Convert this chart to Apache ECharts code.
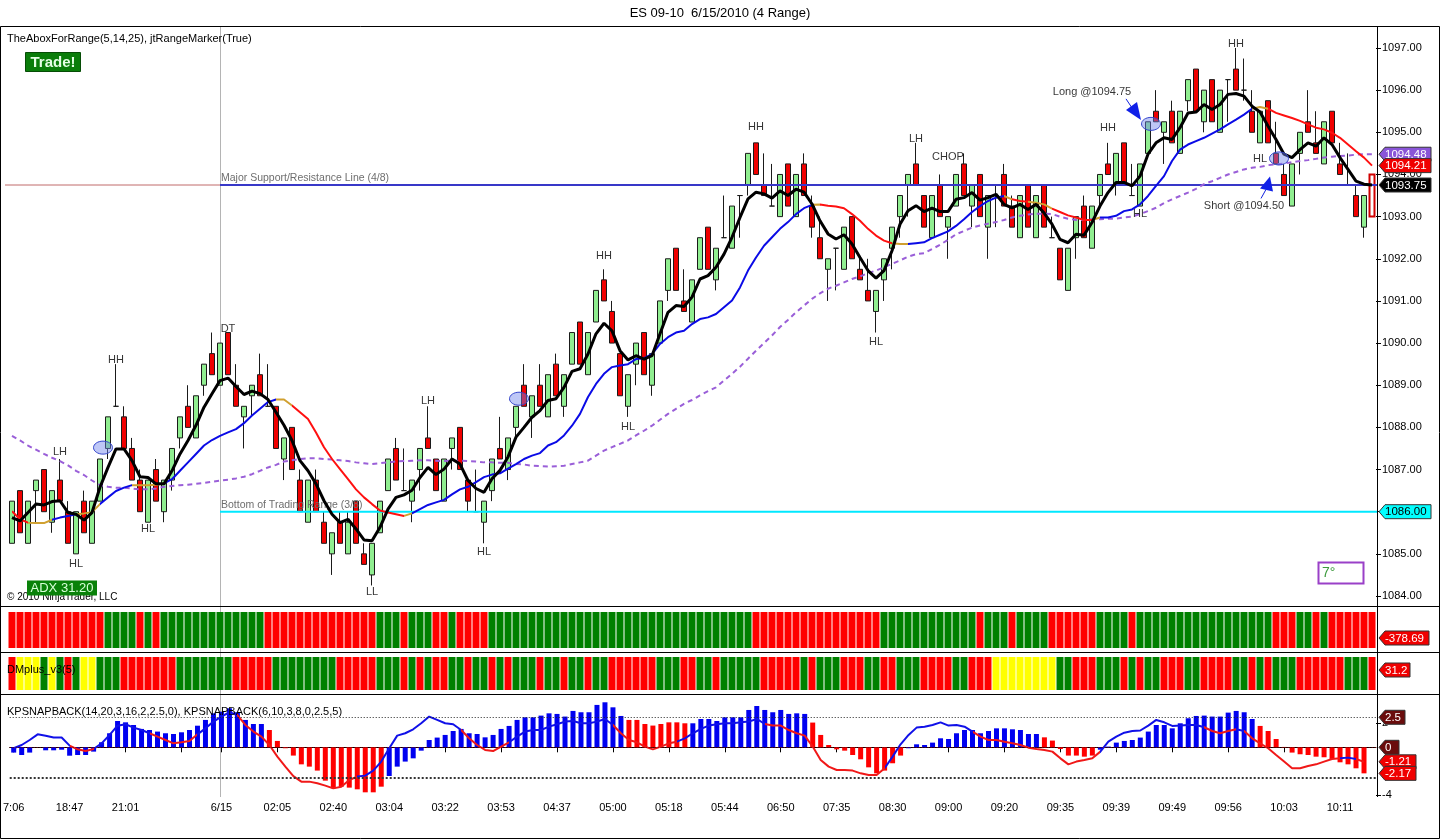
<!DOCTYPE html>
<html><head><meta charset="utf-8">
<script src="https://cdn.jsdelivr.net/npm/echarts@6/dist/echarts.min.js"></script>
<style>html,body{margin:0;padding:0;background:#fff}#c{width:1440px;height:840px}</style>
</head><body><div id="c"></div>
<script>
// ---------------- DATA ----------------
const opens = [
1085.25,1086.5,1085.25,1086.5,1087,1085.75,1086.75,1086,1085,1086.25,
1085.25,1086.25,1087.5,1088.5,1088.25,1087.5,1086.75,1085.75,1087,1086,
1086.75,1087.75,1088.5,1087.75,1089,1089.75,1089,1090.25,1089,1088.25,
1088.75,1089.25,1088.5,1088.5,1087.25,1088,1086.75,1085.75,1086.75,1085.75,
1085,1085.75,1085,1086.25,1085,1084.5,1085.5,1086.5,1087.5,1086.5,
1086.25,1087,1087.75,1087.25,1086.25,1087.5,1088,1086.75,1086,1085.75,
1086.5,1087.5,1087,1088,1089,1088.25,1089,1088.25,1089.5,1088.5,
1089.5,1090.5,1089.25,1090.5,1091.5,1090.75,1089.75,1088.5,1089.5,1090.25,
1089,1090,1091.25,1092.25,1091,1090.5,1091.75,1092.75,1091.5,1092.5,
1092.25,1093.5,1093.75,1094.75,1093.75,1093.25,1093,1094.25,1093,1094.25,
1093.25,1092.5,1091.75,1092.25,1091.75,1093,1091.75,1091.25,1090.75,1091.5,
1092.25,1093,1093.75,1094.25,1093.5,1092.5,1093.75,1092.75,1093.25,1094.25,
1093.25,1094,1092.75,1093.5,1094,1093.25,1092.5,1093.75,1092.5,1093.75,
1092.5,1092.25,1091.25,1092.5,1093.25,1092.25,1093.5,1094.25,1093.75,1094.75,
1093.5,1093.25,1094.5,1095.5,1095,1095.5,1094.5,1095.75,1096.5,1095.25,
1096.25,1095,1096.25,1096.5,1096,1095.5,1094.75,1095.75,1094.5,1094,
1093.25,1094.5,1095.25,1094.75,1094.25,1095.5,1094.25,1093.75,1093.5,1092.75,
1094];
const closes = [
1086.25,1085.5,1086.25,1086.75,1086,1086.5,1086.25,1085.25,1086,1085.5,
1086.25,1087.25,1088.25,1088.5,1087.5,1086.75,1086,1086.75,1086.25,1086.75,
1087.5,1088.25,1088,1088.75,1089.5,1089.25,1090,1089.25,1088.5,1088.5,
1089,1088.75,1088.5,1087.5,1087.75,1087,1086,1086.75,1086,1085.25,
1085.5,1085.25,1085.75,1085.25,1084.75,1085.25,1086.25,1087.25,1086.75,1086.5,
1086.75,1087.5,1087.5,1086.5,1087.25,1087.75,1087,1086.25,1086,1086.25,
1087.25,1087.25,1087.75,1088.5,1088.5,1088.75,1088.5,1089.25,1088.75,1089.25,
1090.25,1089.5,1090.25,1091.25,1091,1090,1088.75,1089.25,1090,1089.25,
1089.75,1091,1092,1091.25,1090.75,1091.5,1092.5,1091.75,1092.25,1092.5,
1093.25,1093.5,1094.5,1094,1093.5,1093.25,1094,1093.25,1094,1093.5,
1092.75,1092,1092,1092.25,1092.75,1092,1091.5,1091,1091.25,1092,
1092.75,1093.5,1094,1093.75,1092.75,1093.5,1093,1093,1094,1093.5,
1093.75,1093,1093.5,1093.5,1093.25,1092.75,1093.5,1092.75,1093.5,1092.75,
1092.5,1091.5,1092.25,1093,1092.5,1093.25,1094,1094,1094.5,1093.75,
1093.5,1094.25,1095.25,1095.25,1095.25,1094.75,1095.5,1096.25,1095.5,1096,
1095.25,1096,1096.25,1096,1096,1095,1095.5,1094.75,1094.25,1093.5,
1094.25,1095,1095,1094.5,1095.25,1094.75,1094,1093.75,1093,1093.5,
1093];
const lows = [
1085.25,1085.5,1085.25,1085.75,1086,1085.5,1086.25,1085.25,1085,1085.5,
1085.25,1086.25,1087.25,1088.5,1087.5,1086.75,1086,1085.75,1086.25,1085.75,
1086.5,1087.5,1088,1087.75,1088.75,1089.25,1089,1089.25,1088.5,1087.5,
1088.25,1088.75,1088.5,1087.5,1086.75,1087,1086,1085.75,1086,1085.25,
1084.5,1085.25,1085,1085.25,1084.75,1084.25,1085.5,1086.5,1086.75,1086.5,
1085.75,1086.5,1087.5,1086.5,1086.25,1087,1087,1086,1086,1085.25,
1086.25,1087.25,1086.75,1087.75,1088.5,1087.75,1088.5,1088.25,1088.75,1088.25,
1089.5,1089.5,1089.25,1090.5,1091,1090,1088.75,1088.25,1089,1089.25,
1088.75,1090,1091,1091.25,1090.75,1090.5,1091.75,1091.75,1091.25,1092.5,
1092.25,1092.5,1093.5,1094,1093.5,1093.25,1093,1093.25,1093,1093.5,
1092.5,1092,1091,1091.25,1091.75,1092,1091.5,1091,1090.25,1091,
1091.75,1092.5,1093,1093.75,1092.75,1092.5,1093,1092,1093.25,1093.5,
1092.75,1093,1092,1092.75,1093.25,1092.75,1092.5,1092.75,1092.5,1092.75,
1092.5,1091.5,1091.25,1092,1092.5,1092.25,1093.25,1094,1093.5,1093.75,
1093.5,1093.25,1094.5,1095.25,1094.25,1094.75,1094.5,1095.5,1095.5,1095,
1095.25,1095,1095.25,1096,1095.75,1095,1094.75,1094.75,1094.25,1093.5,
1093.25,1094,1095,1094.5,1094.25,1094.75,1094,1093.75,1093,1092.5,
1093];
const highs = [
1086.25,1086.5,1086.25,1086.75,1087,1086.5,1087.25,1086.25,1086,1086.5,
1086.25,1087.25,1088.25,1089.5,1088.5,1087.75,1087,1086.75,1087.25,1086.75,
1087.5,1088.25,1089,1088.75,1089.5,1090.25,1090,1090.25,1089.5,1088.5,
1089,1089.75,1089.5,1088.5,1087.75,1088,1087,1086.75,1087,1086,
1085.5,1086,1086,1086.25,1085.25,1085.25,1086.25,1087.25,1087.75,1087.5,
1086.75,1087.5,1088.5,1087.25,1087.25,1087.75,1088,1086.75,1087,1086.25,
1087.25,1088.25,1087.75,1088.5,1089.5,1088.75,1089.5,1089.25,1089.75,1089.25,
1090.25,1090.5,1090.25,1091.25,1091.75,1091,1089.75,1089.25,1090,1090.25,
1089.75,1091,1092,1092.25,1091.75,1091.5,1092.5,1092.75,1092.25,1093.5,
1093.25,1093.5,1094.5,1094.75,1094.5,1094.25,1094,1094.25,1094,1094.5,
1093.5,1093,1092,1092.25,1092.75,1093,1092,1092,1091.25,1092,
1092.75,1093.5,1094,1094.75,1093.5,1093.5,1094,1093,1094,1094.5,
1093.75,1094,1093.5,1093.75,1094.25,1093.5,1093.5,1093.75,1093.5,1093.75,
1093,1092.25,1092.25,1093,1093.5,1093.25,1094,1094.75,1094.5,1094.75,
1094.25,1094.25,1095.25,1096,1095.25,1095.75,1095.5,1096.25,1096.5,1096,
1096.25,1096,1096.25,1097,1096.75,1096,1095.5,1095.75,1095.25,1094.25,
1094.25,1095,1096,1095.5,1095.25,1095.5,1094.75,1094.5,1093.75,1093.5,
1094];
const fastLine = [
1085.86,1085.78,1085.98,1086.18,1086.16,1086.24,1086.26,1085.98,1085.94,1085.80,
1085.98,1086.58,1087.05,1087.49,1087.49,1087.21,1086.83,1086.81,1086.66,1086.66,
1086.97,1087.37,1087.69,1088.05,1088.48,1088.80,1089.11,1089.17,1088.97,1088.78,
1088.86,1088.80,1088.66,1088.36,1088.05,1087.69,1087.21,1086.97,1086.66,1086.26,
1085.94,1085.74,1085.82,1085.59,1085.33,1085.31,1085.63,1086.06,1086.34,1086.40,
1086.51,1086.81,1087.05,1086.88,1087.01,1087.25,1087.13,1086.74,1086.55,1086.46,
1086.78,1086.98,1087.30,1087.77,1088.00,1088.24,1088.40,1088.64,1088.68,1088.95,
1089.33,1089.39,1089.74,1090.22,1090.47,1090.29,1089.82,1089.60,1089.70,1089.62,
1089.70,1090.22,1090.73,1090.89,1090.87,1091.09,1091.52,1091.60,1091.80,1092.11,
1092.51,1092.98,1093.42,1093.58,1093.54,1093.44,1093.61,1093.50,1093.65,1093.58,
1093.30,1092.90,1092.59,1092.47,1092.57,1092.35,1092.03,1091.72,1091.54,1091.72,
1092.19,1092.82,1093.14,1093.26,1093.12,1093.20,1093.12,1093.12,1093.41,1093.45,
1093.57,1093.39,1093.45,1093.53,1093.29,1093.21,1093.29,1093.17,1093.29,1093.09,
1092.82,1092.46,1092.38,1092.58,1092.56,1092.86,1093.25,1093.57,1093.81,1093.81,
1093.73,1093.96,1094.48,1094.75,1094.87,1094.83,1095.11,1095.46,1095.48,1095.66,
1095.54,1095.66,1095.90,1095.92,1095.86,1095.62,1095.48,1095.15,1094.83,1094.48,
1094.40,1094.59,1094.75,1094.67,1094.87,1094.71,1094.40,1094.12,1093.84,1093.77,
1093.75];
const trendLine = [
1086.01,1085.82,1085.74,1085.73,1085.73,1085.81,1085.86,1085.90,1085.94,1085.96,
1085.99,1086.18,1086.34,1086.49,1086.57,1086.63,1086.63,1086.63,1086.64,1086.67,
1086.77,1086.97,1087.17,1087.37,1087.57,1087.70,1087.80,1087.88,1087.96,1088.10,
1088.28,1088.44,1088.60,1088.66,1088.66,1088.52,1088.36,1088.20,1087.88,1087.53,
1087.25,1087.01,1086.77,1086.53,1086.34,1086.18,1086.03,1085.98,1085.94,1085.90,
1085.96,1086.06,1086.16,1086.22,1086.28,1086.41,1086.53,1086.59,1086.70,1086.82,
1086.88,1086.91,1087.02,1087.13,1087.25,1087.33,1087.39,1087.57,1087.65,1087.81,
1088.04,1088.32,1088.72,1089.03,1089.27,1089.43,1089.47,1089.50,1089.62,1089.64,
1089.74,1089.98,1090.14,1090.25,1090.29,1090.45,1090.57,1090.61,1090.69,1090.85,
1091.01,1091.32,1091.72,1092.03,1092.31,1092.51,1092.71,1092.87,1093.06,1093.20,
1093.28,1093.29,1093.26,1093.24,1093.20,1093.06,1092.90,1092.71,1092.55,1092.43,
1092.37,1092.35,1092.35,1092.37,1092.39,1092.49,1092.57,1092.65,1092.78,1092.94,
1093.11,1093.25,1093.37,1093.45,1093.49,1093.41,1093.37,1093.35,1093.33,1093.29,
1093.19,1093.11,1093.03,1092.98,1092.92,1092.92,1092.98,1092.98,1093.02,1093.13,
1093.17,1093.29,1093.49,1093.73,1093.96,1094.32,1094.59,1094.71,1094.79,1094.87,
1094.97,1095.07,1095.19,1095.30,1095.42,1095.56,1095.60,1095.56,1095.46,1095.40,
1095.34,1095.27,1095.19,1095.11,1095.07,1094.99,1094.87,1094.71,1094.55,1094.40,
1094.21];
const slowLine = [
1087.80,1087.69,1087.57,1087.47,1087.37,1087.28,1087.20,1087.10,1086.97,1086.87,
1086.74,1086.63,1086.59,1086.57,1086.57,1086.55,1086.53,1086.53,1086.55,1086.59,
1086.61,1086.63,1086.64,1086.66,1086.68,1086.71,1086.74,1086.76,1086.79,1086.83,
1086.89,1086.97,1087.05,1087.11,1087.19,1087.22,1087.25,1087.27,1087.27,1087.25,
1087.24,1087.22,1087.20,1087.17,1087.15,1087.13,1087.15,1087.17,1087.19,1087.20,
1087.21,1087.22,1087.22,1087.21,1087.20,1087.21,1087.21,1087.20,1087.19,1087.17,
1087.17,1087.16,1087.16,1087.13,1087.12,1087.09,1087.08,1087.07,1087.08,1087.09,
1087.13,1087.17,1087.21,1087.33,1087.45,1087.53,1087.61,1087.69,1087.81,1087.92,
1088.04,1088.18,1088.32,1088.44,1088.56,1088.65,1088.76,1088.86,1088.95,1089.11,
1089.27,1089.44,1089.63,1089.82,1090.00,1090.18,1090.38,1090.55,1090.73,1090.89,
1091.05,1091.18,1091.29,1091.36,1091.44,1091.52,1091.58,1091.66,1091.72,1091.80,
1091.88,1091.96,1092.05,1092.11,1092.13,1092.23,1092.33,1092.45,1092.58,1092.66,
1092.74,1092.79,1092.83,1092.87,1092.92,1092.98,1093.02,1093.05,1093.07,1093.07,
1093.06,1093.00,1092.95,1092.92,1092.92,1092.94,1092.94,1092.95,1092.95,1092.98,
1093.00,1093.06,1093.13,1093.21,1093.32,1093.41,1093.49,1093.57,1093.66,1093.77,
1093.84,1093.92,1094.00,1094.06,1094.12,1094.16,1094.18,1094.22,1094.24,1094.26,
1094.29,1094.32,1094.34,1094.37,1094.40,1094.42,1094.44,1094.45,1094.47,1094.48,
1094.48];
// trend line state: B up, R down, O flat
const trendFlags = ['RROOOBBBOO','OBBBBOOOOB','BBBBBBBBBB','BBBOORRRRR','RRRRRRRRRO','BBBBBBBBBB','BBBBBBBBBB','BBBBBBBBBB','BBBBBBBBBB','BBBBBBBBBB','ORRRRRRRRR','OOBBBBBBBB','BBBBORROOO','RRRRROBBBB','BBBBBBBBBB','BBBBBOORRR','RRRRRRRRRR','R'].join('');
// colour-bar panels
const panel2Flags = ['RRRRRRRRRR','RRGGGGRGRG','GGGGGGGGGG','GGRRRRRRRR','RRRRRRGGGR','GGGRRGRRRR','GGGGGGGGGG','GGGGGGGGGG','GGGGGGGGGG','GGGRRRRRRR','RRRRRRRRRG','GGGGGGGGGG','GRGGGRGGGG','RRRRRRGGGG','RGGGGGGGGG','GGGGGGGGRR','RGGRGRRRRR','R'].join('');
const panel3Flags = ['RYYYGYGRGY','YGGGRRRRRR','RGGGGGGGRR','RRRGGGGGGG','GRRRRRGGGR','GRGRRGGRGG','RGRGGGRGGR','GGRGGRRRRR','RGGGRRGGRG','GGGGRRRRRG','RGGGRRRGGR','RGGGRRRRGG','RRRYYYYYYY','YGGRRRGGGR','GRGGRRRGGR','RRRGGRGRGG','GRRRRRRGGG','R'].join('');
// KPSNAPBACK histogram and line
const kpHist = [
-0.44,-0.64,-0.44,0,-0.25,-0.25,-0.2,-0.7,-0.64,-0.64,
-0.36,0.42,1.17,2.19,2.08,1.86,1.53,1.44,1.31,1.17,
1.11,1.25,1.44,1.8,2.28,2.83,2.97,3.25,2.92,2.28,
1.94,1.94,1.44,0.53,-0.08,-0.69,-1.42,-1.61,-1.94,-2.78,
-3.42,-3.28,-3.36,-3.5,-3.75,-3.75,-3.28,-2.39,-1.61,-1.19,
-0.92,-0.28,0.61,0.81,1.03,1.36,1.53,1.17,1.11,0.83,
1.03,1.53,1.78,2.28,2.5,2.5,2.64,2.83,2.78,2.56,
3.03,2.92,2.92,3.53,3.75,3.33,2.61,2.28,2.28,1.94,
1.81,1.94,2.08,2.08,2.0,2.0,2.36,2.36,2.19,2.5,
2.5,2.5,3.11,3.44,3.11,2.92,3.11,2.78,2.83,2.78,
2.06,1.03,0.19,-0.17,-0.28,-0.64,-1.0,-1.67,-2.17,-1.94,
-1.33,-0.69,-0.08,0.25,0.19,0.39,0.75,0.69,1.17,1.44,
1.44,1.17,1.36,1.58,1.58,1.5,1.44,1.11,1.11,0.83,
0.56,-0.14,-0.69,-0.69,-0.78,-0.69,-0.2,0.06,0.39,0.53,
0.61,0.81,1.31,1.86,1.86,1.58,2.0,2.42,2.61,2.64,
2.56,2.56,2.89,3.03,2.92,2.36,1.78,1.36,0.69,0.03,
-0.44,-0.58,-0.64,-0.78,-0.83,-0.97,-1.25,-1.42,-1.75,-2.17,
null];
const kpHistFlags = ['BBBBBBBBBB','BBBBBBBBBB','BBBBBBBBBB','BBRRRRRRRR','RRRRRRRBBB','BBBBBBBBBB','BBBBBBBBBB','BBBBBBBRRR','RRRRRBBBBB','BBBBBBBBBB','RRRRRRRRRR','RRBBBBBBBB','BBBBBBBBBR','RRRRRRBBBB','BBBBBBBBBB','BBBBBBRRRR','RRRRRRRRRR','R'].join('');
const kpLine = [
-0.08,0.19,0.61,1.08,0.97,0.81,0.81,0.14,-0.17,-0.31,
-0.14,0.33,1.03,1.8,1.92,1.64,1.44,1.17,0.89,0.61,
0.33,0.42,0.53,1.08,1.58,2.14,2.56,2.92,2.69,1.86,
1.31,0.89,0.19,-0.78,-1.61,-2.4,-2.86,-2.86,-3.0,-3.19,
-3.42,-3.28,-2.72,-2.44,-2.36,-1.94,-1.19,-0.08,0.97,1.17,
1.5,2.0,2.56,2.28,2.0,1.92,1.44,0.75,0.19,-0.22,
-0.31,0.06,0.42,0.89,1.31,1.44,1.44,1.72,1.92,2.14,
2.19,2.0,2.0,2.14,2.36,1.86,1.17,0.61,0.42,0.06,
-0.17,0.06,0.33,0.47,0.75,1.17,1.53,1.81,1.92,2.0,
2.0,2.08,2.14,2.36,1.94,1.81,1.81,1.44,1.17,0.97,
0.06,-1.06,-1.61,-1.89,-1.89,-1.94,-2.17,-2.31,-2.31,-1.75,
-0.78,0.25,1.03,1.64,1.72,1.86,2.08,1.81,1.86,1.72,
1.31,0.89,0.61,0.61,0.47,0.33,0.19,-0.03,-0.14,-0.22,
-0.36,-0.92,-1.42,-1.19,-1.06,-0.92,-0.36,0.47,0.89,1.22,
1.36,1.4,1.81,2.28,2.08,1.78,1.81,1.86,1.86,1.67,
1.36,1.17,1.36,1.5,1.36,0.75,0.33,-0.08,-0.64,-1.19,
-1.75,-1.75,-1.56,-1.42,-1.19,-0.97,-0.92,-0.86,-0.97,-1.21,
null];
const kpLineFlags = ['BBBBBBBRRR','BBBBBBBRRR','RRRBBBBBRR','RRRRRRRRRR','RRRBBBBBBB','BBBBBBRRRR','RRBBBBBBBB','BBBBBRRRRR','RRRBBBBBBB','BBBBRRRRRR','RRRRRRRRRB','BBBBBBBBBB','RRRRRRRRRR','RRRRRRBBBB','BBBBBBBBBR','RRRBRRRRRR','RRRRRRBBRR','R'].join('');
// axis ticks
const priceTicks = [1084,1085,1086,1087,1088,1089,1090,1091,1092,1093,1094,1095,1096,1097];
const kpTicks = [2,-4];
const tickBars  = [0,7,14,21,26,33,40,47,54,61,68,75,82,89,96,103,110,117,124,131,138,145,152,159,166];
const tickTexts = ['7:06','18:47','21:01','','6/15','02:05','02:40','03:04','03:22','03:53','04:37','05:00','05:18','05:44','06:50','07:35','08:30','09:00','09:20','09:35','09:39','09:49','09:56','10:03','10:11'];
// annotations [bar, price, text]
const annotations = [
[6,1087.42,'LH'],[13,1089.61,'HH'],[8,1084.77,'HL'],[17,1085.6,'HL'],[27,1090.34,'DT'],
[45,1084.1,'LL'],[52,1088.63,'LH'],[59,1085.05,'HL'],[74,1092.07,'HH'],[77,1088.02,'HL'],
[93,1095.13,'HH'],[108,1090.03,'HL'],[113,1094.85,'LH'],[117,1094.42,'CHOP'],[137,1095.11,'HH'],
[141,1093.07,'HL'],[153,1097.1,'HH'],[156,1094.37,'HL'],
[135,1095.96,'Long @1094.75'],[154,1093.26,'Short @1094.50']];
const entryMarks = [[11,1087.52],[63,1088.68],[142,1095.2],[158,1094.38]];
const levelSR = 1093.75, levelBottom = 1086.00, sessionBar = 26;
const lastValues = {slow:1094.48, trend:1094.21, fast:1093.75, bottom:1086.00, p2:'-378.69', p3:'31.2', kpTop:2.5, kpZero:0, kpLine:-1.21, kpHist:-2.17};

// ---------------- CHART ----------------
const FONT = '"Liberation Sans", Arial, sans-serif';
const N = opens.length;
const cats = opens.map((_, i) => String(i));
const chart = echarts.init(document.getElementById('c'));

const candleData = opens.map((o, i) => [o, closes[i], lows[i], highs[i]]);
candleData[N - 1] = {value: candleData[N - 1], itemStyle: {color: 'rgba(0,0,0,0)', color0: 'rgba(0,0,0,0)', borderColor: '#d00000', borderColor0: '#d00000', borderWidth: 2}};

const panelColors = {R: '#ff0000', G: '#008000', Y: '#ffff00'};
const histColors = {B: '#0000f0', R: '#ff0000'};
const trendColors = {B: '#0a0ae6', R: '#ff1010', O: '#d0a030'};
const kpColors = {B: '#1010e8', R: '#f01818'};

function piecesFrom(flags, pal) {
  const out = []; let s = 0;
  for (let i = 1; i <= flags.length; i++) {
    if (i === flags.length || flags[i] !== flags[s]) { out.push({gte: s - 0.5, lt: i - 0.5, color: pal[flags[s]]}); s = i; }
  }
  return out;
}

const L = 8, W = 1368;
const grids = [
  {left: L, width: W, top: 30, height: 573},
  {left: L, width: W, top: 612, height: 36},
  {left: L, width: W, top: 657, height: 33},
  {left: L, width: W, top: 694, height: 103}
];
const tickSet = new Set(tickBars);
function xAxisFor(gi, show) {
  return {type: 'category', gridIndex: gi, data: cats, boundaryGap: true, show: show,
    axisLine: {show: show, lineStyle: {color: '#000'}},
    axisTick: {show: show, alignWithLabel: true, interval: (i) => tickSet.has(i), length: 5, lineStyle: {color: '#000'}},
    axisLabel: {show: show, interval: (i) => tickSet.has(i), margin: 5, color: '#000', fontSize: 11, fontFamily: FONT,
      formatter: (v, i) => { const k = tickBars.indexOf(Number(v)); return k >= 0 ? tickTexts[k] : ''; }},
    splitLine: {show: false}};
}

const option = {
  animation: false,
  backgroundColor: '#fff',
  grid: grids,
  xAxis: [xAxisFor(0, false), xAxisFor(1, false), xAxisFor(2, false), xAxisFor(3, true)],
  yAxis: [
    {type: 'value', gridIndex: 0, position: 'right', min: 1083.834, max: 1097.427, scale: true,
      axisLine: {show: false}, splitLine: {show: false},
      axisTick: {show: true, customValues: priceTicks, length: 5, lineStyle: {color: '#000'}},
      axisLabel: {customValues: priceTicks, formatter: v => Number(v).toFixed(2), color: '#000', fontSize: 11, fontFamily: FONT, margin: 6}},
    {type: 'value', gridIndex: 1, min: 0, max: 1, show: false},
    {type: 'value', gridIndex: 2, min: 0, max: 1, show: false},
    {type: 'value', gridIndex: 3, position: 'right', min: -4.14, max: 4.44,
      axisLine: {show: false}, splitLine: {show: false},
      axisTick: {show: true, customValues: kpTicks, length: 5, lineStyle: {color: '#000'}},
      axisLabel: {customValues: kpTicks, color: '#000', fontSize: 11, fontFamily: FONT, margin: 6}}
  ],
  visualMap: [
    {type: 'piecewise', show: false, seriesIndex: 2, dimension: 0, pieces: piecesFrom(trendFlags, trendColors)},
    {type: 'piecewise', show: false, seriesIndex: 8, dimension: 0, pieces: piecesFrom(kpLineFlags, kpColors)}
  ],
  series: [
    {type: 'candlestick', xAxisIndex: 0, yAxisIndex: 0, data: candleData, barWidth: 6, z: 2,
      itemStyle: {color: '#90ee90', color0: '#f00000', borderColor: '#1a1a1a', borderColor0: '#1a1a1a', borderWidth: 1}},
    {type: 'line', name: 'slow', xAxisIndex: 0, yAxisIndex: 0, data: slowLine, showSymbol: false, z: 3,
      lineStyle: {color: '#9a5fd8', width: 2, type: [5, 4]}},
    {type: 'line', name: 'trend', xAxisIndex: 0, yAxisIndex: 0, data: trendLine, showSymbol: false, z: 4,
      lineStyle: {width: 2}},
    {type: 'line', name: 'fast', xAxisIndex: 0, yAxisIndex: 0, data: fastLine, showSymbol: false, z: 5,
      lineStyle: {color: '#000', width: 3}},
    {type: 'scatter', xAxisIndex: 0, yAxisIndex: 0, data: annotations, symbolSize: 1, z: 6,
      itemStyle: {color: 'rgba(0,0,0,0)'},
      label: {show: true, position: 'inside', formatter: p => p.data[2], color: '#000', fontSize: 11, fontFamily: FONT}},
    {type: 'bar', xAxisIndex: 1, yAxisIndex: 1, barWidth: 7,
      data: panel2Flags.split('').map(f => ({value: 1, itemStyle: {color: panelColors[f]}}))},
    {type: 'bar', xAxisIndex: 2, yAxisIndex: 2, barWidth: 7,
      data: panel3Flags.split('').map(f => ({value: 1, itemStyle: {color: panelColors[f]}}))},
    {type: 'bar', xAxisIndex: 3, yAxisIndex: 3, barWidth: 5, z: 2,
      data: kpHist.map((v, i) => ({value: v, itemStyle: {color: histColors[kpHistFlags[i]]}})),
      markLine: {silent: true, symbol: 'none', label: {show: false},
        data: [
          {yAxis: 2.5, lineStyle: {color: '#222', width: 1, type: [1, 2]}},
          {yAxis: 0, lineStyle: {color: '#800000', width: 1, type: [1, 2]}},
          {yAxis: -2.5, lineStyle: {color: '#333', width: 2, type: [2, 2]}}
        ]}},
    {type: 'line', xAxisIndex: 3, yAxisIndex: 3, data: kpLine, showSymbol: false, z: 4,
      lineStyle: {width: 2}}
  ]
};
chart.setOption(option);

// ---------------- OVERLAY (positions from the chart's own scales) ----------------
function P(gi, i, v) { return chart.convertToPixel({gridIndex: gi}, [i, v]); }
function txt(x, y, text, opt) {
  opt = opt || {};
  return {type: 'text', x: x, y: y, z: opt.z || 10, silent: true,
    style: {text: text, fill: opt.fill || '#000', font: opt.font || ('11px ' + FONT),
      align: opt.align || 'left', verticalAlign: 'middle', textAlign: opt.align || 'left', textVerticalAlign: 'middle'}};
}
function line(x1, y1, x2, y2, stroke, w, z, dash) {
  return {type: 'line', silent: true, z: z || 10, shape: {x1, y1, x2, y2}, style: {stroke, lineWidth: w || 1, lineDash: dash || null}};
}
function tag(y, text, bg, fg, w) {
  const x0 = 1379, h = 14;
  return [
    {type: 'polygon', silent: true, z: 20, shape: {points: [[x0, y], [x0 + 6, y - h / 2], [x0 + w, y - h / 2], [x0 + w, y + h / 2], [x0 + 6, y + h / 2]]},
      style: {fill: bg, stroke: '#333', lineWidth: 1}},
    txt(x0 + 6, y + 0.5, text, {fill: fg, font: '11.5px ' + FONT, z: 21})
  ];
}

const g = [];
const right = L + W;
// frame and panel separators
g.push({type: 'rect', silent: true, z: 30, shape: {x: 0.5, y: 26.5, width: 1439, height: 812}, style: {fill: null, stroke: '#000', lineWidth: 1}});
[606.5, 652.5, 694.5].forEach(y => g.push(line(0, y, 1440, y, '#000', 1, 30)));
g.push(line(right + 1.5, 27, right + 1.5, 797, '#000', 1, 30));
// session break
const sx = P(0, sessionBar, levelSR)[0];
g.push(line(sx + 0.5, 27, sx + 0.5, 797, '#b4b4b4', 1, 1));
// title & labels
g.push(txt(720, 13, 'ES 09-10  6/15/2010 (4 Range)', {align: 'center', font: '13px ' + FONT}));
g.push(txt(7, 39, 'TheAboxForRange(5,14,25), jtRangeMarker(True)'));
g.push({type: 'rect', silent: true, z: 12, shape: {x: 25.5, y: 52.5, width: 55, height: 19}, style: {fill: '#0a7d0a', stroke: '#064d06', lineWidth: 1}});
g.push(txt(53, 62.5, 'Trade!', {align: 'center', fill: '#e6ffe6', font: 'bold 15px ' + FONT, z: 13}));
g.push(txt(7, 597, '\u00a9 2010 NinjaTrader, LLC', {font: '10px ' + FONT, z: 10}));
g.push({type: 'rect', silent: true, z: 12, shape: {x: 27, y: 580.5, width: 70, height: 15}, style: {fill: '#0a820a'}});
g.push(txt(62, 588.5, 'ADX 31.20', {align: 'center', fill: '#d8ffd8', font: '13px ' + FONT, z: 13}));
g.push({type: 'rect', silent: true, z: 12, shape: {x: 1318.5, y: 562.5, width: 45, height: 21}, style: {fill: '#fff', stroke: '#9a40c8', lineWidth: 2}});
g.push(txt(1322, 573, '7\u00b0', {fill: '#3c9a3c', font: '14px ' + FONT, z: 13}));
g.push(txt(7, 670, 'DMplus_v3(5)', {z: 12}));
g.push(txt(7, 712, 'KPSNAPBACK(14,20,3,16,2,2.5,0), KPSNAPBACK(6,10,3,8,0,2.5,5)', {z: 12}));
// horizontal levels
const ySR = P(0, sessionBar, levelSR)[1];
const yBot = P(0, sessionBar, levelBottom)[1];
g.push(line(5, ySR, sx, ySR, '#c06a6a', 1, 3));
g.push(line(sx, ySR, right + 1, ySR, '#3838c8', 2, 3));
g.push(line(sx, yBot, right + 1, yBot, '#00e8ff', 2, 3));
g.push(txt(221, ySR - 7, 'Major Support/Resistance Line (4/8)', {fill: '#6e6e6e', font: '10.5px ' + FONT, z: 3}));
g.push(txt(221, yBot - 7, 'Bottom of Trading Range (3/8)', {fill: '#6e6e6e', font: '10.5px ' + FONT, z: 3}));
// entry ellipses
entryMarks.forEach(m => {
  const p = P(0, m[0], m[1]);
  g.push({type: 'ellipse', silent: true, z: 7, shape: {cx: p[0] + 3, cy: p[1], rx: 9.5, ry: 6.5}, style: {fill: 'rgba(110,130,235,0.45)', stroke: '#3344cc', lineWidth: 1}});
});
// long / short arrows
const pl = P(0, entryMarks[2][0], entryMarks[2][1]);
const tipL = [pl[0] - 7, pl[1] - 4];
g.push(line(tipL[0] - 15, tipL[1] - 21, tipL[0] - 9, tipL[1] - 12, '#1020e0', 1, 8));
g.push({type: 'polygon', silent: true, z: 8, shape: {points: [tipL, [tipL[0] - 4, tipL[1] - 18], [tipL[0] - 15, tipL[1] - 10]]}, style: {fill: '#1020e8'}});
const ps = P(0, entryMarks[3][0], entryMarks[3][1]);
const tipS = [ps[0] - 6, ps[1] + 18];
g.push(line(tipS[0] - 4, tipS[1] + 13, tipS[0] - 9, tipS[1] + 22, '#1020e0', 1, 8));
g.push({type: 'polygon', silent: true, z: 8, shape: {points: [tipS, [tipS[0] + 3, tipS[1] + 15], [tipS[0] - 10, tipS[1] + 12]]}, style: {fill: '#1020e8'}});
// price tags
g.push(...tag(P(0, N - 1, lastValues.slow)[1], lastValues.slow.toFixed(2), '#8a55d8', '#fff', 52));
g.push(...tag(P(0, N - 1, lastValues.trend)[1], lastValues.trend.toFixed(2), '#f00000', '#fff', 52));
g.push(...tag(P(0, N - 1, lastValues.fast)[1], lastValues.fast.toFixed(2), '#000', '#fff', 52));
g.push(...tag(P(0, N - 1, lastValues.bottom)[1], lastValues.bottom.toFixed(2), '#00ffff', '#000', 52));
g.push(...tag(638, lastValues.p2, '#f00000', '#fff', 50));
g.push(...tag(670, lastValues.p3, '#f00000', '#fff', 31));
g.push(...tag(P(3, N - 1, lastValues.kpTop)[1], String(lastValues.kpTop), '#6a0c0c', '#fff', 26));
g.push(...tag(P(3, N - 1, lastValues.kpZero)[1], String(lastValues.kpZero), '#6a0c0c', '#fff', 20));
g.push(...tag(P(3, N - 1, lastValues.kpLine)[1], lastValues.kpLine.toFixed(2), '#f00000', '#fff', 37));
g.push(...tag(P(3, N - 1, lastValues.kpHist)[1], lastValues.kpHist.toFixed(2), '#f00000', '#fff', 37));

chart.setOption({graphic: g});
</script></body></html>
